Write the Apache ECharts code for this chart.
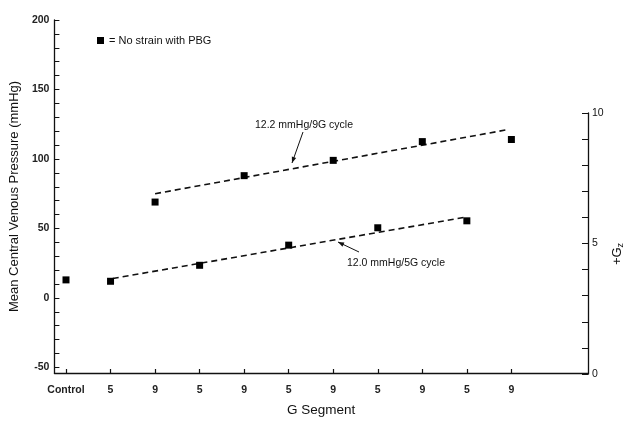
<!DOCTYPE html>
<html><head><meta charset="utf-8">
<script src="https://cdn.jsdelivr.net/npm/echarts@6/dist/echarts.min.js"></script>
<style>html,body{margin:0;padding:0;background:#fff}#c{width:628px;height:428px}</style>
</head><body><div id="c"></div>
<script>
// ---- data ----
const xTickLabels = ['Control', '5', '9', '5', '9', '5', '9', '5', '9', '5', '9'];
const pbgValues = [13, 12, 69, 23.5, 88, 38, 99, 50.5, 112.5, 55.5, 114];
const fit9G = [[2, 75], [9.9, 121]];
const fit5G = [[1.05, 14], [8.95, 58]];
const leftTickLabels = [-50, 0, 50, 100, 150, 200];
const leftMinorTicks = [-50, -40, -30, -20, -10, 0, 10, 20, 30, 40, 50, 60, 70, 80, 90, 100, 110, 120, 130, 140, 150, 160, 170, 180, 190, 200];
const rightTicks = [0, 1, 2, 3, 4, 5, 6, 7, 8, 9, 10];
const rightTickLabels = [0, 5, 10];
const legendLabel = '= No strain with PBG';
const note9G = '12.2 mmHg/9G cycle';
const note5G = '12.0 mmHg/5G cycle';

const FONT = '"Liberation Sans", Arial, Helvetica, sans-serif';
const INK = '#111';
const xIdx = xTickLabels.map((_, i) => i);

const chart = echarts.init(document.getElementById('c'), null, {renderer: 'canvas'});

function arrow(x1, y1, x2, y2) {
  const dx = x2 - x1, dy = y2 - y1, L = Math.hypot(dx, dy);
  const ux = dx / L, uy = dy / L, nx = -uy, ny = ux, s = 6, w = 2.3;
  return [
    {type: 'line', shape: {x1, y1, x2, y2}, style: {stroke: INK, lineWidth: 1}},
    {type: 'polygon', shape: {points: [[x2, y2], [x2 - ux * s + nx * w, y2 - uy * s + ny * w], [x2 - ux * s - nx * w, y2 - uy * s - ny * w]]}, style: {fill: INK}}
  ];
}

const tickLabelStyle = {fontSize: 10.5, fontWeight: 'bold', color: '#222', fontFamily: FONT};

const option = {
  backgroundColor: '#fff',
  animation: false,
  textStyle: {fontFamily: FONT, color: INK},
  grid: [
    {left: 54, right: 40, top: 20, bottom: 55},
    {left: 54, right: 40, top: 113, bottom: 54}
  ],
  legend: {
    show: true, left: 92, top: 30, icon: 'rect', itemWidth: 7, itemHeight: 7,
    data: ['No strain with PBG'],
    formatter: () => legendLabel,
    itemStyle: {color: '#000', opacity: 1},
    textStyle: {fontSize: 11, color: INK, fontFamily: FONT}
  },
  xAxis: [
    {
      type: 'value', gridIndex: 0, min: -0.26, max: 11.72,
      axisLine: {show: true, onZero: false, lineStyle: {color: INK, width: 1.3}},
      axisTick: {show: true, inside: true, length: 4, customValues: xIdx, lineStyle: {color: INK, width: 1.2}},
      axisLabel: Object.assign({customValues: xIdx, formatter: v => xTickLabels[Math.round(v)], margin: 12}, tickLabelStyle),
      splitLine: {show: false},
      name: 'G Segment', nameLocation: 'middle', nameGap: 30,
      nameTextStyle: {fontSize: 13.5, color: INK, fontFamily: FONT}
    },
    {type: 'value', gridIndex: 1, min: 0, max: 1, show: false}
  ],
  yAxis: [
    {
      type: 'value', gridIndex: 0, min: -54, max: 200, position: 'left',
      axisLine: {show: true, onZero: false, lineStyle: {color: INK, width: 1.3}},
      axisTick: {show: true, inside: true, length: 5, customValues: leftMinorTicks, lineStyle: {color: INK, width: 1}},
      axisLabel: Object.assign({customValues: leftTickLabels, margin: 5}, tickLabelStyle),
      splitLine: {show: false},
      name: 'Mean Central Venous Pressure (mmHg)', nameLocation: 'middle', nameGap: 32,
      nameTextStyle: {fontSize: 13, color: INK, fontFamily: FONT}
    },
    {
      type: 'value', gridIndex: 1, min: 0, max: 10, position: 'right',
      axisLine: {show: true, onZero: false, lineStyle: {color: INK, width: 1.3}},
      axisTick: {show: true, inside: true, length: 6, customValues: rightTicks, lineStyle: {color: INK, width: 1}},
      axisLabel: {customValues: rightTickLabels, fontSize: 10.5, color: INK, margin: 4, fontFamily: FONT},
      splitLine: {show: false}
    }
  ],
  series: [
    {
      name: 'No strain with PBG', type: 'scatter', xAxisIndex: 0, yAxisIndex: 0,
      symbol: 'rect', symbolSize: 7, itemStyle: {color: '#000', opacity: 1},
      data: pbgValues.map((v, i) => [xIdx[i], v]), z: 5
    },
    {
      name: '9G fit', type: 'line', xAxisIndex: 0, yAxisIndex: 0, data: fit9G,
      showSymbol: false, symbol: 'none', lineStyle: {color: INK, width: 1.6, type: [6, 4]}
    },
    {
      name: '5G fit', type: 'line', xAxisIndex: 0, yAxisIndex: 0, data: fit5G,
      showSymbol: false, symbol: 'none', lineStyle: {color: INK, width: 1.6, type: [6, 4]}
    }
  ],
  graphic: [
    {type: 'text', x: 255, y: 125, style: {text: note9G, fontSize: 10.5, fontFamily: FONT, fill: INK, align: 'left', verticalAlign: 'middle'}},
    ...arrow(303, 132, 292, 163),
    {type: 'text', x: 347, y: 263, style: {text: note5G, fontSize: 10.5, fontFamily: FONT, fill: INK, align: 'left', verticalAlign: 'middle'}},
    ...arrow(359, 252, 338, 242),
    {type: 'text', x: 617, y: 254, rotation: Math.PI / 2,
     style: {text: '{a|+G}{b|z}', align: 'center', verticalAlign: 'middle', fill: INK, fontFamily: FONT,
       rich: {a: {fontSize: 13, fontFamily: FONT, fill: INK}, b: {fontSize: 9, fontFamily: FONT, fill: INK, padding: [7, 0, 0, 0]}}}}
  ]
};
chart.setOption(option);
</script>
</body></html>
